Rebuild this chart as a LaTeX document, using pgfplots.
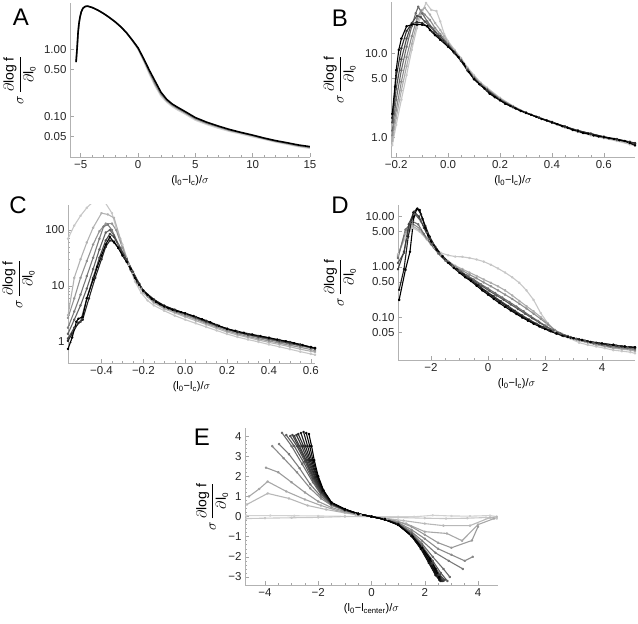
\documentclass[border=0pt]{standalone}
\usepackage{fontspec}
\setmainfont{Liberation Sans}
\usepackage{pgfplots}
\pgfplotsset{compat=1.18}
\pgfplotsset{
 mstyle/.style={scale only axis, axis lines=left,
  axis line style={-,draw=black!30,line width=0.6pt},
  tick style={black!35,line width=0.5pt}, tick align=inside,
  major tick length=4pt, minor tick length=2.2pt,
  xtick pos=bottom, ytick pos=left,
  ticklabel style={font=\fontsize{11.5}{13}\selectfont, text=black!85},
  xlabel style={font=\fontsize{11}{13}\selectfont},
  ylabel style={font=\fontsize{14}{16}\selectfont, anchor=center},
  every axis plot/.append style={line width=1.1pt, line join=round, mark=*, mark size=0.75pt},
  xlabel={(l\textsubscript{0}−l\textsubscript{c})/$\sigma$},
  ylabel={$\sigma\,\displaystyle\frac{\partial\mbox{log f}}{\partial\mbox{l}_{\mbox{\footnotesize 0}}}$},
 },
}
\begin{document}
\begin{tikzpicture}[x=1pt,y=1pt]
\path[use as bounding box] (0,0) rectangle (638,624);
\node[font=\fontsize{24}{24}\selectfont] at (21,607) {A};
\node[font=\fontsize{24}{24}\selectfont] at (340,606) {B};
\node[font=\fontsize{24}{24}\selectfont] at (18,419) {C};
\node[font=\fontsize{24}{24}\selectfont] at (340,419) {D};
\node[font=\fontsize{24}{24}\selectfont] at (202,187) {E};
% ---------------- A
\begin{axis}[mstyle, at={(70pt,467pt)}, anchor=south west, width=240pt, height=154pt,
 ylabel style={at={(axis description cs:-0.21,0.5)}},
 ymode=log, xmin=-5.93, xmax=15, ymin=0.0245, ymax=4.9,
 xtick={-5,0,5,10,15}, xticklabels={−5,0,5,10,15}, minor x tick num=4,
 ytick={0.05,0.1,0.5,1}, yticklabels={0.05,0.10,0.50,1.00}]
\addplot[black!18, mark=none, line width=1.4pt] coordinates {(-5.4,0.64) (-5.3,1.1) (-5.23,1.74) (-5.15,2.4) (-5.06,3.0) (-4.95,3.6) (-4.8,4.1) (-4.6,4.35) (-4.4,4.4) (-4.0,4.2) (-3.5,3.83) (-3.0,3.41) (-2.5,2.98) (-2.0,2.57) (-1.5,2.16) (-1.0,1.75) (-0.5,1.34) (0,1.0) (0.5,0.66) (1.0,0.42) (1.5,0.28) (2.0,0.2) (2.5,0.162) (3.0,0.138) (3.5,0.122) (4,0.11) (5,0.087) (6,0.075) (7,0.066) (8,0.059) (9,0.054) (10,0.049) (11,0.045) (12,0.041) (13,0.038) (14,0.035) (15,0.033)};
\addplot[black!45, mark=none, line width=1.4pt] coordinates {(-5.4,0.64) (-5.3,1.1) (-5.23,1.74) (-5.15,2.4) (-5.06,3.0) (-4.95,3.6) (-4.8,4.1) (-4.6,4.35) (-4.4,4.4) (-4.0,4.2) (-3.5,3.83) (-3.0,3.41) (-2.5,2.98) (-2.0,2.57) (-1.5,2.16) (-1.0,1.76) (-0.5,1.36) (0,1.03) (0.5,0.69) (1.0,0.45) (1.5,0.3) (2.0,0.213) (2.5,0.17) (3.0,0.145) (3.5,0.128) (4,0.115) (5,0.091) (6,0.078) (7,0.069) (8,0.061) (9,0.056) (10,0.051) (11,0.046) (12,0.042) (13,0.039) (14,0.036) (15,0.034)};
\addplot[black, mark=none, line width=1.6pt] coordinates {(-5.4,0.64) (-5.3,1.1) (-5.23,1.74) (-5.15,2.4) (-5.06,3.0) (-4.95,3.6) (-4.8,4.1) (-4.6,4.35) (-4.4,4.4) (-4.0,4.2) (-3.5,3.83) (-3.0,3.41) (-2.5,2.98) (-2.0,2.57) (-1.5,2.16) (-1.0,1.76) (-0.5,1.37) (0,1.05) (0.5,0.72) (1.0,0.48) (1.5,0.33) (2.0,0.228) (2.5,0.178) (3.0,0.151) (3.5,0.134) (4,0.12) (5,0.095) (6,0.081) (7,0.071) (8,0.063) (9,0.057) (10,0.052) (11,0.047) (12,0.043) (13,0.04) (14,0.037) (15,0.035)};
\end{axis}
% ---------------- B
\begin{axis}[mstyle, at={(391pt,467pt)}, anchor=south west, width=244pt, height=155pt,
 ylabel style={at={(axis description cs:-0.21,0.5)}},
 ymode=log, xmin=-0.22, xmax=0.72, ymin=0.58, ymax=41,
 xtick={-0.2,0,0.2,0.4,0.6}, xticklabels={−0.2,0.0,0.2,0.4,0.6}, minor x tick num=3,
 ytick={1,5,10}, yticklabels={1.0,5.0,10.0}]
\addplot[black!22] coordinates {(-0.215,0.8) (-0.2,1.4) (-0.18,2.8) (-0.16,5.5) (-0.14,11) (-0.12,20) (-0.1,31) (-0.085,40) (-0.065,33) (-0.045,32) (-0.03,24) (-0.015,17) (0,14) (0.025,11) (0.05,8.8) (0.075,6.8) (0.1,5.5) (0.125,4.5) (0.15,3.9) (0.2,2.95) (0.25,2.35) (0.3,1.95) (0.35,1.7) (0.4,1.48) (0.45,1.3) (0.5,1.15) (0.55,1.05) (0.6,0.97) (0.65,0.9) (0.7,0.82) (0.72,0.79)};
\addplot[black!32] coordinates {(-0.215,0.9) (-0.2,1.7) (-0.18,3.6) (-0.16,7) (-0.14,13) (-0.12,23) (-0.1,33) (-0.09,35) (-0.07,29) (-0.05,23) (-0.03,19) (-0.015,16) (0,13.5) (0.025,10.8) (0.05,8.6) (0.075,6.6) (0.1,5.3) (0.125,4.4) (0.15,3.8) (0.2,2.9) (0.25,2.35) (0.3,1.97) (0.35,1.72) (0.4,1.5) (0.45,1.32) (0.5,1.17) (0.55,1.07) (0.6,0.99) (0.65,0.92) (0.7,0.85) (0.72,0.82)};
\addplot[black!45] coordinates {(-0.215,1.05) (-0.2,2.1) (-0.18,4.6) (-0.16,9) (-0.14,16) (-0.12,26) (-0.105,32) (-0.09,29) (-0.07,25) (-0.05,20) (-0.03,17) (0,13) (0.025,10.5) (0.05,8.4) (0.075,6.5) (0.1,5.2) (0.125,4.3) (0.15,3.75) (0.2,2.85) (0.25,2.32) (0.3,1.96) (0.35,1.7) (0.4,1.5) (0.45,1.33) (0.5,1.18) (0.55,1.08) (0.6,1.0) (0.65,0.93) (0.7,0.86) (0.72,0.83)};
\addplot[black!58] coordinates {(-0.215,1.2) (-0.2,2.8) (-0.18,6.3) (-0.16,12) (-0.14,21) (-0.125,30) (-0.115,36) (-0.1,30) (-0.08,24) (-0.06,20) (-0.04,17) (0,12.8) (0.025,10.3) (0.05,8.3) (0.075,6.4) (0.1,5.1) (0.125,4.25) (0.15,3.7) (0.2,2.8) (0.25,2.3) (0.3,1.95) (0.35,1.7) (0.4,1.52) (0.45,1.33) (0.5,1.2) (0.55,1.1) (0.6,1.0) (0.65,0.94) (0.7,0.87) (0.72,0.84)};
\addplot[black!70] coordinates {(-0.215,1.5) (-0.2,3.8) (-0.18,8.5) (-0.16,15) (-0.14,23) (-0.12,28) (-0.105,27) (-0.09,24) (-0.07,21) (-0.05,18) (-0.03,16) (0,12.5) (0.025,10.2) (0.05,8.2) (0.075,6.3) (0.1,5.0) (0.125,4.2) (0.15,3.65) (0.2,2.78) (0.25,2.28) (0.3,1.95) (0.35,1.71) (0.4,1.52) (0.45,1.34) (0.5,1.2) (0.55,1.1) (0.6,1.01) (0.65,0.94) (0.7,0.87) (0.72,0.84)};
\addplot[black!82] coordinates {(-0.215,1.7) (-0.2,5.2) (-0.18,11.5) (-0.16,18.5) (-0.14,22.5) (-0.12,23.5) (-0.1,23) (-0.08,21) (-0.06,18) (-0.04,16) (-0.02,14) (0,12.2) (0.025,10) (0.05,8.1) (0.075,6.2) (0.1,4.95) (0.125,4.2) (0.15,3.6) (0.2,2.76) (0.25,2.28) (0.3,1.94) (0.35,1.7) (0.4,1.5) (0.45,1.34) (0.5,1.19) (0.55,1.1) (0.6,1.01) (0.65,0.95) (0.7,0.88) (0.72,0.85)};
\addplot[black] coordinates {(-0.215,1.9) (-0.205,4) (-0.2,6.3) (-0.19,11) (-0.18,15) (-0.16,21) (-0.14,22) (-0.12,22) (-0.1,22) (-0.08,21) (-0.07,19) (-0.05,16.5) (-0.03,14.5) (0,12) (0.02,10.5) (0.04,9) (0.06,7.5) (0.08,6) (0.1,4.9) (0.12,4.3) (0.14,3.8) (0.16,3.3) (0.18,3.0) (0.2,2.75) (0.22,2.5) (0.24,2.35) (0.26,2.2) (0.28,2.05) (0.3,1.95) (0.32,1.85) (0.34,1.75) (0.36,1.65) (0.38,1.58) (0.4,1.5) (0.42,1.43) (0.44,1.35) (0.46,1.3) (0.48,1.22) (0.5,1.18) (0.52,1.12) (0.54,1.1) (0.56,1.05) (0.58,1.02) (0.6,1.0) (0.62,0.97) (0.64,0.95) (0.66,0.92) (0.68,0.9) (0.7,0.85) (0.72,0.8)};
\end{axis}
% ---------------- C
\begin{axis}[mstyle, at={(68pt,261pt)}, anchor=south west, width=247pt, height=158pt,
 ylabel style={at={(axis description cs:-0.2,0.5)}},
 ymode=log, xmin=-0.56, xmax=0.62, ymin=0.42, ymax=280,
 xtick={-0.4,-0.2,0,0.2,0.4,0.6}, xticklabels={−0.4,−0.2,0.0,0.2,0.4,0.6}, minor x tick num=3,
 ytick={1,10,100}, yticklabels={1,10,100}]
\addplot[black!22] coordinates {(-0.56,70) (-0.53,120) (-0.5,180) (-0.47,250) (-0.44,320) (-0.41,340) (-0.38,300) (-0.35,200) (-0.33,110) (-0.3,55) (-0.27,24) (-0.24,12) (-0.21,7.5) (-0.18,5.5) (-0.15,4.5) (-0.1,3.6) (-0.05,2.95) (0,2.5) (0.05,2.15) (0.1,1.85) (0.15,1.6) (0.2,1.38) (0.25,1.22) (0.3,1.1) (0.35,1.0) (0.4,0.9) (0.45,0.82) (0.5,0.74) (0.55,0.67) (0.6,0.61) (0.62,0.59)};
\addplot[black!30] coordinates {(-0.56,3) (-0.53,14) (-0.5,30) (-0.47,60) (-0.44,110) (-0.4,200) (-0.37,190) (-0.34,165) (-0.31,70) (-0.28,32) (-0.25,17) (-0.22,10) (-0.2,7.5) (-0.15,5) (-0.1,3.9) (-0.05,3.3) (0,2.8) (0.05,2.4) (0.1,2.05) (0.15,1.75) (0.2,1.5) (0.25,1.33) (0.3,1.2) (0.35,1.08) (0.4,0.98) (0.45,0.9) (0.5,0.82) (0.55,0.74) (0.6,0.68) (0.62,0.66)};
\addplot[black!42] coordinates {(-0.56,2.7) (-0.53,6) (-0.5,14) (-0.47,28) (-0.44,55) (-0.41,95) (-0.38,130) (-0.35,130) (-0.33,100) (-0.3,48) (-0.27,25) (-0.24,14) (-0.21,9) (-0.18,6.5) (-0.15,5.2) (-0.1,4.1) (-0.05,3.45) (0,2.95) (0.05,2.55) (0.1,2.15) (0.15,1.85) (0.2,1.58) (0.25,1.4) (0.3,1.25) (0.35,1.14) (0.4,1.04) (0.45,0.95) (0.5,0.87) (0.55,0.8) (0.6,0.73) (0.62,0.7)};
\addplot[black!52] coordinates {(-0.56,1.8) (-0.53,3.5) (-0.5,7) (-0.47,15) (-0.44,32) (-0.41,70) (-0.39,115) (-0.37,125) (-0.35,100) (-0.32,55) (-0.29,33) (-0.26,19) (-0.23,11.5) (-0.2,8) (-0.15,5.5) (-0.1,4.3) (-0.05,3.6) (0,3.1) (0.05,2.65) (0.1,2.25) (0.15,1.93) (0.2,1.66) (0.25,1.47) (0.3,1.32) (0.35,1.2) (0.4,1.1) (0.45,1.0) (0.5,0.92) (0.55,0.85) (0.6,0.78) (0.62,0.75)};
\addplot[black!62] coordinates {(-0.56,1.4) (-0.53,2.5) (-0.5,4.5) (-0.47,9) (-0.44,20) (-0.41,45) (-0.38,90) (-0.36,100) (-0.34,80) (-0.31,48) (-0.28,30) (-0.25,18) (-0.22,11) (-0.2,8.2) (-0.15,5.6) (-0.1,4.4) (-0.05,3.7) (0,3.2) (0.05,2.72) (0.1,2.3) (0.15,1.97) (0.2,1.7) (0.25,1.5) (0.3,1.35) (0.35,1.23) (0.4,1.13) (0.45,1.03) (0.5,0.95) (0.55,0.87) (0.6,0.8) (0.62,0.77)};
\addplot[black!72] coordinates {(-0.56,1.15) (-0.53,1.8) (-0.5,2.3) (-0.47,6) (-0.44,14) (-0.41,32) (-0.38,65) (-0.36,85) (-0.34,75) (-0.31,46) (-0.28,30) (-0.25,18) (-0.22,11) (-0.2,8.2) (-0.15,5.7) (-0.1,4.45) (-0.05,3.75) (0,3.22) (0.05,2.75) (0.1,2.32) (0.15,1.98) (0.2,1.72) (0.25,1.52) (0.3,1.37) (0.35,1.25) (0.4,1.15) (0.45,1.05) (0.5,0.96) (0.55,0.88) (0.6,0.81) (0.62,0.78)};
\addplot[black!85] coordinates {(-0.56,1.05) (-0.54,1.4) (-0.51,2.2) (-0.49,2.5) (-0.46,6) (-0.43,14) (-0.4,30) (-0.38,50) (-0.36,65) (-0.34,62) (-0.32,48) (-0.29,32) (-0.26,20) (-0.23,12) (-0.2,8.3) (-0.15,5.75) (-0.1,4.4) (-0.05,3.75) (0,3.24) (0.05,2.8) (0.1,2.38) (0.15,2.0) (0.2,1.7) (0.25,1.5) (0.3,1.37) (0.35,1.27) (0.4,1.18) (0.45,1.08) (0.5,1.0) (0.55,0.9) (0.6,0.81) (0.62,0.78)};
\addplot[black] coordinates {(-0.56,0.75) (-0.54,1.2) (-0.52,2.3) (-0.51,2.6) (-0.49,2.8) (-0.47,6) (-0.44,13) (-0.42,22) (-0.4,35) (-0.38,55) (-0.36,75) (-0.34,60) (-0.32,48) (-0.3,35) (-0.28,27) (-0.26,20) (-0.24,14) (-0.22,10.5) (-0.2,8.2) (-0.18,6.9) (-0.16,5.9) (-0.14,5.2) (-0.12,4.7) (-0.1,4.3) (-0.08,4.0) (-0.06,3.75) (-0.04,3.55) (-0.02,3.4) (0,3.25) (0.04,2.9) (0.08,2.55) (0.12,2.25) (0.16,1.95) (0.2,1.72) (0.24,1.58) (0.28,1.46) (0.32,1.36) (0.36,1.27) (0.4,1.19) (0.44,1.1) (0.48,1.03) (0.52,0.95) (0.56,0.88) (0.6,0.8) (0.62,0.77)};
\end{axis}
% ---------------- D
\begin{axis}[mstyle, at={(398pt,264pt)}, anchor=south west, width=237pt, height=155pt,
 ylabel style={at={(axis description cs:-0.245,0.5)}},
 ymode=log, xmin=-3.16, xmax=5.16, ymin=0.014, ymax=17,
 xtick={-2,0,2,4}, xticklabels={−2,0,2,4}, minor x tick num=3,
 ytick={0.05,0.1,0.5,1,5,10}, yticklabels={0.05,0.10,0.50,1.00,5.00,10.00}]
\addplot[black!22] coordinates {(-3.16,1.8) (-2.9,3.8) (-2.65,6) (-2.4,5) (-2.15,3.5) (-1.9,2.4) (-1.65,1.9) (-1.4,1.7) (-1.15,1.6) (-0.9,1.58) (-0.65,1.5) (-0.4,1.4) (-0.15,1.27) (0.1,1.1) (0.35,0.93) (0.6,0.77) (0.85,0.62) (1.1,0.48) (1.35,0.34) (1.6,0.22) (1.85,0.12) (2.1,0.075) (2.35,0.052) (2.6,0.044) (2.9,0.037) (3.2,0.031) (3.5,0.028) (3.8,0.026) (4.1,0.024) (4.4,0.022) (4.7,0.021) (5.0,0.02) (5.16,0.019)};
\addplot[black!32] coordinates {(-3.16,1.7) (-2.9,4.5) (-2.65,6.5) (-2.4,5.3) (-2.15,3.6) (-1.9,2.4) (-1.65,1.7) (-1.4,1.3) (-1.15,1.05) (-0.9,0.9) (-0.65,0.77) (-0.4,0.66) (-0.15,0.56) (0.1,0.48) (0.35,0.41) (0.6,0.34) (0.85,0.27) (1.1,0.21) (1.35,0.165) (1.6,0.13) (1.85,0.1) (2.1,0.075) (2.35,0.055) (2.6,0.046) (2.9,0.039) (3.2,0.034) (3.5,0.031) (3.8,0.028) (4.1,0.026) (4.4,0.024) (4.7,0.023) (5.0,0.022) (5.16,0.021)};
\addplot[black!44] coordinates {(-3.16,1.6) (-2.9,5) (-2.65,7.2) (-2.4,5.8) (-2.15,3.7) (-1.9,2.4) (-1.65,1.65) (-1.4,1.25) (-1.15,1.0) (-0.9,0.84) (-0.65,0.7) (-0.4,0.59) (-0.15,0.49) (0.1,0.41) (0.35,0.34) (0.6,0.28) (0.85,0.23) (1.1,0.185) (1.35,0.148) (1.6,0.117) (1.85,0.092) (2.1,0.071) (2.35,0.055) (2.6,0.046) (2.9,0.04) (3.2,0.035) (3.5,0.032) (3.8,0.029) (4.1,0.027) (4.4,0.025) (4.7,0.024) (5.0,0.023) (5.16,0.022)};
\addplot[black!56] coordinates {(-3.16,1.5) (-2.9,5.5) (-2.65,8) (-2.45,7) (-2.25,4.5) (-2.0,2.8) (-1.75,1.85) (-1.5,1.33) (-1.25,1.03) (-1.0,0.84) (-0.75,0.68) (-0.5,0.56) (-0.25,0.45) (0,0.37) (0.25,0.3) (0.5,0.245) (0.75,0.2) (1.0,0.162) (1.25,0.13) (1.5,0.104) (1.75,0.084) (2.0,0.068) (2.25,0.056) (2.5,0.048) (2.8,0.041) (3.1,0.036) (3.4,0.033) (3.7,0.03) (4.0,0.028) (4.3,0.026) (4.6,0.025) (4.9,0.024) (5.16,0.023)};
\addplot[black!66] coordinates {(-3.16,1.2) (-2.95,1.9) (-2.75,7.5) (-2.55,11) (-2.35,8) (-2.15,4.8) (-1.95,2.9) (-1.7,1.85) (-1.45,1.3) (-1.2,1.0) (-0.95,0.8) (-0.7,0.64) (-0.45,0.51) (-0.2,0.41) (0.05,0.33) (0.3,0.27) (0.55,0.22) (0.8,0.178) (1.05,0.145) (1.3,0.117) (1.55,0.095) (1.8,0.078) (2.05,0.064) (2.3,0.054) (2.55,0.047) (2.8,0.042) (3.1,0.037) (3.4,0.034) (3.7,0.031) (4.0,0.029) (4.3,0.027) (4.6,0.026) (4.9,0.025) (5.16,0.024)};
\addplot[black!76] coordinates {(-3.16,0.9) (-2.95,2.0) (-2.78,7) (-2.6,12.5) (-2.42,10) (-2.25,6) (-2.05,3.6) (-1.8,2.2) (-1.55,1.5) (-1.3,1.1) (-1.05,0.85) (-0.8,0.66) (-0.55,0.52) (-0.3,0.41) (-0.05,0.32) (0.2,0.26) (0.45,0.207) (0.7,0.167) (0.95,0.133) (1.2,0.108) (1.45,0.089) (1.7,0.074) (1.95,0.063) (2.2,0.054) (2.45,0.047) (2.7,0.042) (3.0,0.038) (3.3,0.035) (3.6,0.032) (3.9,0.03) (4.2,0.028) (4.5,0.027) (4.8,0.026) (5.16,0.025)};
\addplot[black!88] coordinates {(-3.12,0.35) (-2.95,0.9) (-2.8,4) (-2.62,12) (-2.48,14.5) (-2.35,11) (-2.2,6.5) (-2.05,4.0) (-1.85,2.5) (-1.6,1.65) (-1.35,1.2) (-1.1,0.9) (-0.85,0.7) (-0.6,0.55) (-0.35,0.43) (-0.1,0.33) (0.15,0.26) (0.4,0.205) (0.65,0.165) (0.9,0.132) (1.15,0.107) (1.4,0.088) (1.65,0.073) (1.9,0.062) (2.15,0.054) (2.4,0.047) (2.65,0.042) (2.9,0.039) (3.2,0.036) (3.5,0.033) (3.8,0.031) (4.1,0.029) (4.4,0.028) (4.7,0.026) (5.0,0.025) (5.16,0.025)};
\addplot[black] coordinates {(-3.12,0.22) (-2.9,0.87) (-2.74,2.0) (-2.6,10) (-2.5,14) (-2.4,13.5) (-2.3,9) (-2.2,6) (-2.1,4.2) (-2,3.2) (-1.8,2.2) (-1.6,1.6) (-1.4,1.2) (-1.2,0.95) (-1,0.76) (-0.8,0.62) (-0.6,0.52) (-0.4,0.42) (-0.2,0.34) (0,0.28) (0.2,0.23) (0.4,0.19) (0.6,0.16) (0.8,0.135) (1,0.115) (1.2,0.098) (1.4,0.085) (1.6,0.074) (1.8,0.065) (2,0.058) (2.2,0.052) (2.4,0.047) (2.6,0.043) (2.8,0.04) (3,0.038) (3.3,0.035) (3.6,0.032) (4,0.03) (4.4,0.028) (4.8,0.026) (5.16,0.025)};
\end{axis}
% ---------------- E
\begin{axis}[mstyle, at={(245pt,39pt)}, anchor=south west, width=253pt, height=157pt,
 ylabel style={at={(axis description cs:-0.13,0.5)}},
 xmin=-4.75, xmax=4.75, ymin=-3.4, ymax=4.4,
 xtick={-4,-2,0,2,4}, xticklabels={−4,−2,0,2,4}, minor x tick num=3,
 ytick={-3,-2,-1,0,1,2,3,4}, yticklabels={−3,−2,−1,0,1,2,3,4}, minor y tick num=4,
 xlabel={(l\textsubscript{0}−l\textsubscript{center})/$\sigma$}]
\addplot[black!18] coordinates {(-4.7,0.05) (-3.8,0.05) (-2.9,0.04) (-2,0.03) (-1,0.01) (0,0) (1,-0.01) (1.6,-0.01) (2.3,0.06) (3,0.03) (3.7,0.02) (4.45,0.05) (4.7,0.0)};
\addplot[black!22] coordinates {(-4.7,-0.1) (-4,-0.08) (-3,-0.06) (-2,-0.04) (-1,0.0) (0,0) (1,-0.05) (2,-0.08) (2.8,-0.1) (3.6,-0.08) (4.3,-0.05) (4.7,-0.1)};
\addplot[black!28] coordinates {(-4.68,0.6) (-3.9,1.15) (-3.1,0.9) (-2.4,0.55) (-1.7,0.35) (-1,0.18) (-0.4,0.06) (0,0) (0.5,-0.08) (1.2,-0.2) (2.0,-0.35) (2.7,-0.45) (3.7,-0.45) (4.45,-0.05) (4.7,-0.02)};
\addplot[black!34] coordinates {(-4.6,1.0) (-4.22,1.37) (-3.9,1.74) (-3.2,1.25) (-2.5,0.85) (-1.9,0.55) (-1.3,0.3) (-0.6,0.1) (0,0) (0.6,-0.12) (1.3,-0.35) (2.0,-0.75) (2.83,-0.84) (3.4,-1.2) (4.0,-0.4) (4.6,-0.1)};
\addplot[black!40] coordinates {(-3.96,2.43) (-3.5,2.2) (-3.0,1.7) (-2.5,1.2) (-2.0,0.75) (-1.5,0.45) (-1,0.25) (-0.5,0.1) (0,0) (0.5,-0.1) (1,-0.25) (1.5,-0.5) (2.0,-0.9) (2.5,-1.3) (3.0,-1.55) (3.77,-1.19) (4.0,-0.5)};
\addplot[black!46] coordinates {(-3.73,3.5) (-3.3,2.9) (-2.8,2.2) (-2.3,1.4) (-1.9,0.9) (-1.5,0.55) (-1,0.3) (-0.5,0.12) (0,0) (0.5,-0.12) (1,-0.3) (1.5,-0.65) (2.0,-1.1) (2.5,-1.6) (3.0,-1.9) (3.5,-2.2) (3.8,-2.0)};
\addplot[black!52] coordinates {(-3.47,3.6) (-3.1,3.1) (-2.7,2.4) (-2.3,1.6) (-1.9,1.0) (-1.5,0.58) (-1,0.3) (-0.5,0.12) (0,0) (0.5,-0.13) (1,-0.33) (1.5,-0.75) (1.9,-1.2) (2.4,-1.8) (2.9,-2.2) (3.43,-2.6)};
\addplot[black!58] coordinates {(-3.36,4.16) (-3.0,3.5) (-2.6,2.6) (-2.2,1.7) (-1.9,1.1) (-1.5,0.6) (-1,0.32) (-0.5,0.13) (0,0) (0.5,-0.14) (1,-0.35) (1.5,-0.82) (1.9,-1.35) (2.3,-2.0) (2.7,-2.6) (2.94,-3.0)};
\addplot[black!64] coordinates {(-3.2,4.05) (-2.9,3.5) (-2.55,2.7) (-2.2,1.8) (-1.9,1.15) (-1.5,0.62) (-1,0.33) (-0.5,0.13) (0,0) (0.5,-0.14) (1,-0.37) (1.5,-0.86) (1.9,-1.45) (2.3,-2.2) (2.6,-2.8) (2.85,-3.2)};
\addplot[black!70] coordinates {(-3.05,4.0) (-2.8,3.5) (-2.5,2.75) (-2.2,1.9) (-1.9,1.2) (-1.5,0.63) (-1,0.33) (-0.5,0.13) (0,0) (0.5,-0.14) (1,-0.38) (1.5,-0.9) (1.9,-1.5) (2.3,-2.3) (2.57,-2.9) (2.75,-3.15)};
\addplot[black!73] coordinates {(-2.97,4.05) (-2.75,3.5) (-2.47,2.78) (-2.17,1.9) (-1.87,1.2) (-1.5,0.635) (-1,0.335) (-0.5,0.13) (0,0) (0.5,-0.14) (1,-0.38) (1.5,-0.91) (1.9,-1.55) (2.27,-2.32) (2.53,-2.9) (2.71,-3.18)};
\addplot[black!76] coordinates {(-2.9,4.0) (-2.7,3.5) (-2.45,2.8) (-2.15,1.9) (-1.85,1.2) (-1.5,0.64) (-1,0.34) (-0.5,0.13) (0,0) (0.5,-0.14) (1,-0.38) (1.5,-0.92) (1.9,-1.6) (2.25,-2.35) (2.5,-2.9) (2.68,-3.2)};
\addplot[black!80] coordinates {(-2.82,4.05) (-2.62,3.5) (-2.4,2.8) (-2.12,1.92) (-1.85,1.22) (-1.5,0.65) (-1,0.345) (-0.5,0.13) (0,0) (0.5,-0.14) (1,-0.385) (1.5,-0.93) (1.9,-1.62) (2.22,-2.35) (2.47,-2.92) (2.64,-3.2)};
\addplot[black!84] coordinates {(-2.75,4.1) (-2.55,3.5) (-2.35,2.8) (-2.1,1.95) (-1.85,1.25) (-1.5,0.66) (-1,0.35) (-0.5,0.13) (0,0) (0.5,-0.14) (1,-0.39) (1.5,-0.95) (1.9,-1.65) (2.2,-2.35) (2.45,-2.95) (2.6,-3.2)};
\addplot[black!88] coordinates {(-2.65,4.15) (-2.48,3.5) (-2.3,2.8) (-2.07,1.97) (-1.83,1.27) (-1.5,0.67) (-1,0.355) (-0.5,0.135) (0,0) (0.5,-0.145) (1,-0.395) (1.5,-0.96) (1.87,-1.62) (2.17,-2.32) (2.42,-2.92) (2.57,-3.17)};
\addplot[black!92] coordinates {(-2.55,4.2) (-2.4,3.5) (-2.25,2.8) (-2.05,2.0) (-1.82,1.3) (-1.5,0.68) (-1,0.36) (-0.5,0.14) (0,0) (0.5,-0.15) (1,-0.4) (1.5,-0.97) (1.85,-1.6) (2.15,-2.3) (2.4,-2.9) (2.55,-3.15)};
\addplot[black!96] coordinates {(-2.45,4.15) (-2.32,3.5) (-2.2,2.8) (-2.02,2.0) (-1.81,1.3) (-1.5,0.69) (-1,0.365) (-0.5,0.14) (0,0) (0.5,-0.15) (1,-0.41) (1.52,-0.98) (1.87,-1.57) (2.17,-2.2) (2.4,-2.75) (2.55,-3.08)};
\addplot[black] coordinates {(-2.35,4.1) (-2.25,3.5) (-2.15,2.8) (-2.0,2.0) (-1.8,1.3) (-1.5,0.7) (-1,0.37) (-0.5,0.14) (0,0) (0.5,-0.15) (1,-0.42) (1.55,-1.0) (1.9,-1.55) (2.2,-2.1) (2.4,-2.6) (2.55,-3.0)};
\end{axis}
\end{tikzpicture}
\end{document}
